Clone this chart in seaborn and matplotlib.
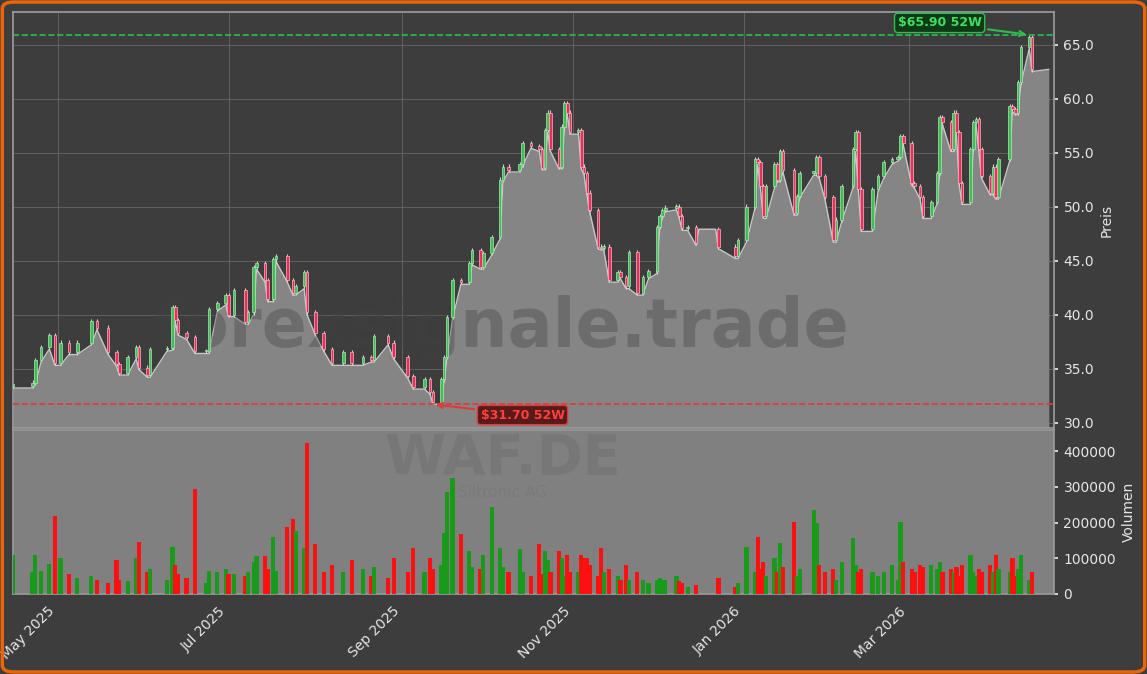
import matplotlib
matplotlib.use("Agg")
import matplotlib.pyplot as plt
import matplotlib.dates as mdates
from matplotlib.patches import FancyBboxPatch
import seaborn as sns
import pandas as pd
import numpy as np

dates = ["2025-04-15","2025-04-22","2025-04-23","2025-04-25","2025-04-28","2025-04-30","2025-05-02","2025-05-05",
"2025-05-08","2025-05-13","2025-05-15","2025-05-19","2025-05-22","2025-05-23","2025-05-26","2025-05-29","2025-05-30",
"2025-06-02","2025-06-03","2025-06-09","2025-06-11","2025-06-12","2025-06-13","2025-06-16","2025-06-19","2025-06-23",
"2025-06-24","2025-06-27","2025-06-30","2025-07-01","2025-07-03","2025-07-07","2025-07-08","2025-07-10","2025-07-11",
"2025-07-14","2025-07-15","2025-07-17","2025-07-18","2025-07-22","2025-07-24","2025-07-25","2025-07-28","2025-07-29",
"2025-08-01","2025-08-04","2025-08-07","2025-08-11","2025-08-14","2025-08-18","2025-08-21","2025-08-22","2025-08-27",
"2025-08-29","2025-09-03","2025-09-05","2025-09-09","2025-09-11","2025-09-12","2025-09-15","2025-09-16","2025-09-17",
"2025-09-19","2025-09-22","2025-09-25","2025-09-26","2025-09-29","2025-09-30","2025-10-03","2025-10-06","2025-10-07",
"2025-10-09","2025-10-13","2025-10-14","2025-10-17","2025-10-20","2025-10-21","2025-10-22","2025-10-23","2025-10-24",
"2025-10-27","2025-10-28","2025-10-29","2025-10-30","2025-10-31","2025-11-03","2025-11-04","2025-11-05","2025-11-06",
"2025-11-07","2025-11-10","2025-11-11","2025-11-12","2025-11-14","2025-11-17","2025-11-18","2025-11-20","2025-11-21",
"2025-11-24","2025-11-26","2025-11-28","2025-12-01","2025-12-02","2025-12-03","2025-12-04","2025-12-08","2025-12-09",
"2025-12-10","2025-12-12","2025-12-15","2025-12-16","2025-12-22","2025-12-23","2025-12-29","2025-12-30","2026-01-02",
"2026-01-05","2026-01-06","2026-01-07","2026-01-08","2026-01-09","2026-01-12","2026-01-13","2026-01-14","2026-01-15",
"2026-01-19","2026-01-20","2026-01-21","2026-01-26","2026-01-27","2026-01-28","2026-01-30","2026-02-02","2026-02-03",
"2026-02-05","2026-02-09","2026-02-10","2026-02-11","2026-02-12","2026-02-16","2026-02-18","2026-02-20","2026-02-23",
"2026-02-25","2026-02-26","2026-02-27","2026-03-02","2026-03-03","2026-03-05","2026-03-06","2026-03-09","2026-03-11",
"2026-03-12","2026-03-13","2026-03-16","2026-03-17","2026-03-18","2026-03-19","2026-03-20","2026-03-23","2026-03-24",
"2026-03-25","2026-03-26","2026-03-27","2026-03-30","2026-03-31","2026-04-01","2026-04-02","2026-04-06","2026-04-07",
"2026-04-08","2026-04-09","2026-04-10","2026-04-13","2026-04-14","2026-04-20"]

closes = [33.4,33.7,35.8,37.0,38.1,35.5,37.4,36.5,
37.4,39.4,38.8,36.5,35.4,34.6,36.1,37.0,35.1,
34.4,36.8,36.9,40.7,39.5,38.3,37.9,36.6,36.6,
40.5,41.1,41.8,40.0,42.3,39.3,40.2,44.4,44.8,
43.2,41.4,45.1,45.4,43.2,42.0,42.6,43.9,40.2,
38.3,36.8,35.5,36.5,35.5,36.1,35.8,38.0,37.4,
36.1,34.3,33.3,34.0,32.8,31.9,34.0,36.1,39.8,
43.2,43.0,44.8,46.0,44.4,45.7,47.2,52.5,53.7,
53.4,53.9,55.9,55.6,55.3,53.6,57.1,58.7,55.3,
53.7,57.4,59.6,58.7,56.9,57.1,53.7,53.1,51.3,
49.7,46.3,46.2,46.3,43.2,43.9,43.5,42.6,45.8,
42.0,43.5,44.0,48.1,49.1,49.7,49.9,50.0,49.1,
48.0,48.1,46.6,47.9,47.9,46.3,45.4,46.9,50.0,
54.4,54.1,51.9,49.1,51.9,53.9,52.5,55.1,53.4,
49.4,51.0,53.1,53.1,54.6,52.8,50.9,46.9,48.8,
51.9,55.3,56.9,51.6,47.9,51.6,52.8,54.1,54.4,
54.6,56.5,55.9,52.2,51.9,50.9,49.1,50.4,53.1,
58.3,57.8,55.3,58.7,56.9,52.2,50.4,55.3,57.8,
58.1,55.3,52.8,51.3,53.7,50.9,54.4,59.3,59.0,
58.7,61.5,64.8,65.7,62.7,62.7]

volumes_k = [110,60,110,65,85,218,100,55,
45,50,40,30,95,40,35,100,145,
60,70,40,131,80,55,45,295,30,
65,60,70,55,55,50,60,90,105,
105,70,160,65,188,211,177,130,424,
140,60,80,60,95,70,50,75,45,
100,60,129,60,100,70,80,170,286,
326,168,120,75,70,110,244,130,75,
60,125,60,50,141,55,120,95,60,
120,100,50,110,60,60,110,100,100,
80,50,129,60,70,50,40,80,40,
60,40,30,40,45,40,40,50,35,
30,20,25,0,0,45,20,30,132,
60,160,70,90,50,100,60,144,75,
203,50,70,234,200,80,60,70,40,
90,158,80,60,70,60,50,60,80,
40,203,90,70,60,80,75,80,70,
90,60,70,60,75,50,80,110,60,
50,70,60,80,60,110,70,60,100,
50,70,110,40,60,0]

tick_dates = ["2025-05-01","2025-07-01","2025-09-01","2025-11-01","2026-01-01","2026-03-01"]

df = pd.DataFrame({"date": pd.to_datetime(dates), "close": closes, "volume": np.array(volumes_k) * 1000})
df["open"] = df["close"].shift(1).fillna(df["close"])
df["high"] = df[["open", "close"]].max(axis=1) + 0.2
df["low"] = df[["open", "close"]].min(axis=1) - 0.2
flat = df["volume"] == 0
df.loc[flat, "open"] = df.loc[flat, "close"]
df.loc[flat, "high"] = df.loc[flat, "close"]
df.loc[flat, "low"] = df.loc[flat, "close"]
up = df["close"] >= df["open"]

sns.set_theme(style="dark")
plt.rcParams["font.family"] = ["DejaVu Sans"]
BG = "#3d3d3d"
TXT = "#e6e6e6"
fig = plt.figure(figsize=(11.47, 6.74), dpi=100, facecolor=BG)
ax = fig.add_axes([0.0113, 0.365, 0.908, 0.617], facecolor=BG)
axv = fig.add_axes([0.0113, 0.119, 0.908, 0.243], facecolor="#808080", sharex=ax)

ax.fill_between(df["date"], 29.5, df["low"], color="#858585", lw=0, zorder=1)
sns.lineplot(x=df["date"], y=df["low"], ax=ax, color="#c8c8c8", lw=1, zorder=2)
cd = df[~flat]
cu = up[~flat]
ax.vlines(cd["date"], cd["low"], cd["high"], color="#d0d0d0", lw=0.8, zorder=3)
ax.bar(cd["date"][cu], (cd["close"] - cd["open"])[cu].clip(lower=0.15), bottom=cd["open"][cu], width=0.9,
       color="#3fbf55", edgecolor="#a8e8b0", lw=0.5, zorder=4)
ax.bar(cd["date"][~cu], (cd["open"] - cd["close"])[~cu], bottom=cd["close"][~cu], width=0.9,
       color="#e8305a", edgecolor="#ffb0c0", lw=0.5, zorder=4)

lo = df["low"].min(); hi = df["high"].max()
lo_d = df.loc[df["low"].idxmin(), "date"]; hi_d = df.loc[df["high"].idxmax(), "date"]
ax.axhline(lo, color="#e03a3a", ls="--", lw=1.2, zorder=5)
ax.axhline(hi, color="#2ebd4e", ls="--", lw=1.2, zorder=5)
ax.annotate(f"${lo:.2f} 52W", xy=(lo_d, lo), xytext=(lo_d + pd.Timedelta(days=17), 30.7),
            color="#ff4040", fontsize=9, fontweight="bold", va="center",
            bbox=dict(boxstyle="round,pad=0.25", fc="#5a1a1a", ec="#e03a3a"),
            arrowprops=dict(arrowstyle="->", color="#e03a3a", lw=1.5), zorder=6)
ax.annotate(f"${hi:.2f} 52W", xy=(hi_d, hi), xytext=(hi_d - pd.Timedelta(days=47), 67.0),
            color="#3ee060", fontsize=9, fontweight="bold", va="center",
            bbox=dict(boxstyle="round,pad=0.25", fc="#0f3a18", ec="#2ebd4e"),
            arrowprops=dict(arrowstyle="->", color="#2ebd4e", lw=1.5), zorder=6)

ax.text(0.47, 0.24, "forexsignale.trade", transform=ax.transAxes, ha="center", va="center",
        fontsize=48, fontweight="bold", color="#404040", alpha=0.35, zorder=2)

ax.set_ylim(29.5, 68.0)
ax.set_xlim(pd.Timestamp("2025-04-15"), pd.Timestamp("2026-04-22"))
ax.yaxis.tick_right(); ax.yaxis.set_label_position("right")
ax.set_yticks([30, 35, 40, 45, 50, 55, 60, 65])
ax.set_yticklabels([f"{v:.1f}" for v in [30, 35, 40, 45, 50, 55, 60, 65]])
ax.set_ylabel("Preis", color=TXT, fontsize=10)
ax.set_xlabel("")
ax.tick_params(axis="y", colors=TXT, labelsize=10, length=3)
ax.tick_params(axis="x", labelbottom=False, length=0)
ax.grid(True, color="#6a6a6a", lw=0.7, alpha=0.8)
for s in ax.spines.values():
    s.set_color("#9a9a9a")

vcol = np.where(up, "#1a9a1a", "#ff1010")
axv.bar(df["date"], df["volume"], width=1.5, color=vcol, edgecolor="none", lw=0, zorder=3)
axv.text(0.47, 0.82, "WAF.DE", transform=axv.transAxes, ha="center", va="center", fontsize=40,
         fontweight="bold", color="#777777", zorder=1)
axv.text(0.47, 0.62, "Siltronic AG", transform=axv.transAxes, ha="center", va="center", fontsize=11,
         color="#7a7a7a", zorder=1)
axv.set_ylim(0, 460000)
axv.yaxis.tick_right(); axv.yaxis.set_label_position("right")
axv.set_yticks([0, 100000, 200000, 300000, 400000])
axv.set_yticklabels(["0", "100000", "200000", "300000", "400000"])
axv.set_ylabel("Volumen", color=TXT, fontsize=10)
axv.tick_params(axis="y", colors=TXT, labelsize=10, length=3)
axv.tick_params(axis="x", colors=TXT, labelsize=10, length=4)
axv.set_xticks(pd.to_datetime(tick_dates))
axv.xaxis.set_major_formatter(mdates.DateFormatter("%b %Y"))
plt.setp(axv.get_xticklabels(), rotation=45, ha="right")
axv.grid(False)
for s in axv.spines.values():
    s.set_color("#9a9a9a")

fig.patches.append(FancyBboxPatch((0.002, 0.003), 0.996, 0.994, boxstyle="round,pad=0,rounding_size=0.01",
                                  transform=fig.transFigure, fill=False, ec="#e8650a", lw=2.5))
fig.savefig("out.png", dpi=100, facecolor=BG)
